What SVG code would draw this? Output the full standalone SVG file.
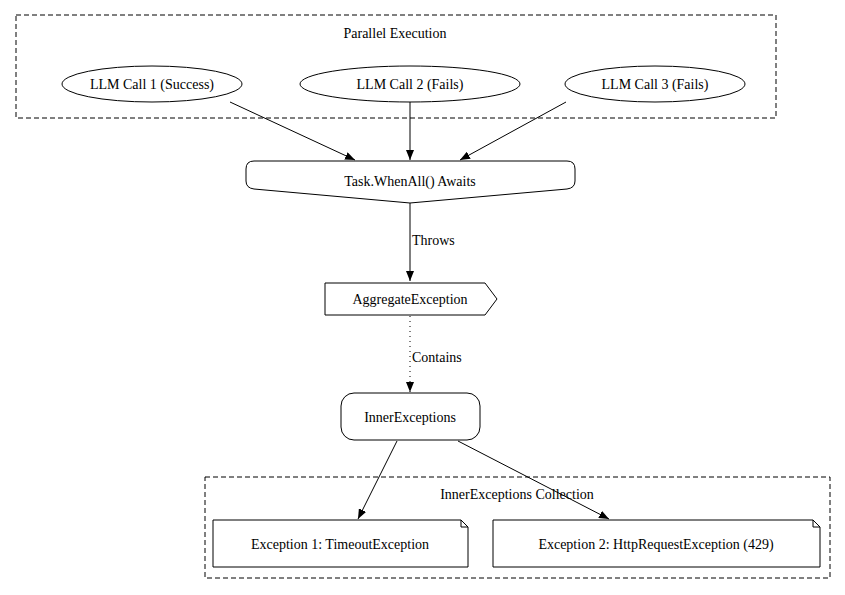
<svg xmlns="http://www.w3.org/2000/svg" width="845" height="595" viewBox="0 0 845 595">
<style>
text{font-family:"Liberation Serif",serif;font-size:14px;text-anchor:middle;fill:#000}
.n{fill:#fff;stroke:#000;stroke-width:1}
.c{fill:none;stroke:#000;stroke-dasharray:5,3}
.e{fill:none;stroke:#000;stroke-width:1}
</style>
<defs><marker id="a" markerWidth="10" markerHeight="8" refX="10" refY="4" orient="auto" markerUnits="userSpaceOnUse"><path d="M0,0L10,4L0,8z"/></marker></defs>
<rect width="845" height="595" fill="#fff"/>
<g id="cluster_parallel"><rect class="c" x="16" y="15" width="760" height="103"/><text x="395" y="38">Parallel Execution</text></g>
<g id="cluster_inner"><rect class="c" x="205" y="477" width="625" height="101"/><text x="517" y="499">InnerExceptions Collection</text></g>
<g id="connectors">
<path class="e" d="M230,102L355,160" marker-end="url(#a)"/>
<path class="e" d="M410,102L410,160" marker-end="url(#a)"/>
<path class="e" d="M566,102L460,160" marker-end="url(#a)"/>
<path class="e" d="M410,203L410,281" marker-end="url(#a)"/>
<text x="412" y="245" style="text-anchor:start">Throws</text>
<path class="e" d="M410,316L410,392" stroke-dasharray="1,4" marker-end="url(#a)"/>
<text x="412" y="362" style="text-anchor:start">Contains</text>
<path class="e" d="M397,441L358,519" marker-end="url(#a)"/>
<path class="e" d="M458,441L609,519" marker-end="url(#a)"/>
</g>
<g id="llm1"><ellipse class="n" cx="152" cy="84" rx="90" ry="18"/><text x="152" y="89">LLM Call 1 (Success)</text></g>
<g id="llm2"><ellipse class="n" cx="410" cy="84" rx="110" ry="18"/><text x="410" y="89">LLM Call 2 (Fails)</text></g>
<g id="llm3"><ellipse class="n" cx="655" cy="84" rx="90" ry="18"/><text x="655" y="89">LLM Call 3 (Fails)</text></g>
<g id="whenall"><path class="n" d="M254,161H567Q575,161 575,169V181Q575,188 567,189L410,203L254,189Q246,188 246,181V169Q246,161 254,161Z"/><text x="410" y="186">Task.WhenAll() Awaits</text></g>
<g id="aggregate"><path class="n" d="M325,283H485L497,299L485,315H325Z"/><text x="410" y="304">AggregateException</text></g>
<g id="innerex"><rect class="n" x="341" y="393" width="139" height="47" rx="13"/><text x="410" y="422">InnerExceptions</text></g>
<g id="ex1"><path class="n" d="M213,520H461L468,527V567H213Z"/><path class="e" d="M461,520V527H468"/><text x="340" y="549">Exception 1: TimeoutException</text></g>
<g id="ex2"><path class="n" d="M493,520H813L820,527V567H493Z"/><path class="e" d="M813,520V527H820"/><text x="656" y="549">Exception 2: HttpRequestException (429)</text></g>
</svg>
